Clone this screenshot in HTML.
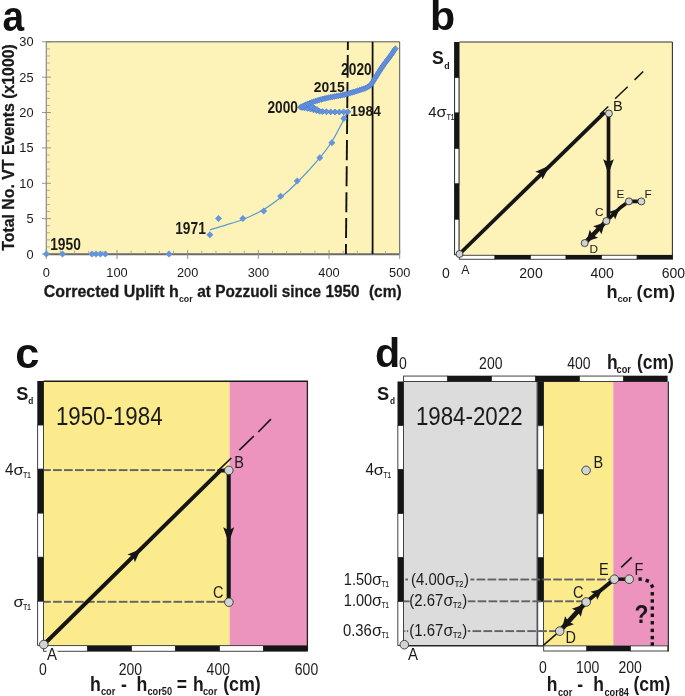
<!DOCTYPE html>
<html><head><meta charset="utf-8"><title>Figure</title>
<style>html,body{margin:0;padding:0;background:#fff}svg{display:block;will-change:transform;opacity:0.9999}</style></head>
<body>
<svg width="685" height="696" viewBox="0 0 685 696" font-family="'Liberation Sans', sans-serif">
<rect x="0.00" y="0.00" width="685.00" height="696.00" fill="#fff"/>
<rect x="46.30" y="41.80" width="353.40" height="212.20" fill="#fdf3b8"/>
<line x1="46.30" y1="41.80" x2="399.70" y2="41.80" stroke="#555" stroke-width="1" />
<line x1="399.70" y1="41.80" x2="399.70" y2="254.00" stroke="#555" stroke-width="1" />
<line x1="46.30" y1="41.80" x2="46.30" y2="254.00" stroke="#8a8a8a" stroke-width="1.2" />
<line x1="45.30" y1="254.30" x2="399.70" y2="254.30" stroke="#6a6a6a" stroke-width="2.0" />
<line x1="42.00" y1="254.00" x2="50.90" y2="254.00" stroke="#8a8a8a" stroke-width="0.9" />
<line x1="46.30" y1="246.93" x2="49.90" y2="246.93" stroke="#a8a697" stroke-width="0.9" />
<line x1="46.30" y1="239.85" x2="49.90" y2="239.85" stroke="#a8a697" stroke-width="0.9" />
<line x1="46.30" y1="232.78" x2="49.90" y2="232.78" stroke="#a8a697" stroke-width="0.9" />
<line x1="46.30" y1="225.71" x2="49.90" y2="225.71" stroke="#a8a697" stroke-width="0.9" />
<line x1="42.00" y1="218.63" x2="50.90" y2="218.63" stroke="#8a8a8a" stroke-width="0.9" />
<line x1="46.30" y1="211.56" x2="49.90" y2="211.56" stroke="#a8a697" stroke-width="0.9" />
<line x1="46.30" y1="204.49" x2="49.90" y2="204.49" stroke="#a8a697" stroke-width="0.9" />
<line x1="46.30" y1="197.41" x2="49.90" y2="197.41" stroke="#a8a697" stroke-width="0.9" />
<line x1="46.30" y1="190.34" x2="49.90" y2="190.34" stroke="#a8a697" stroke-width="0.9" />
<line x1="42.00" y1="183.27" x2="50.90" y2="183.27" stroke="#8a8a8a" stroke-width="0.9" />
<line x1="46.30" y1="176.19" x2="49.90" y2="176.19" stroke="#a8a697" stroke-width="0.9" />
<line x1="46.30" y1="169.12" x2="49.90" y2="169.12" stroke="#a8a697" stroke-width="0.9" />
<line x1="46.30" y1="162.05" x2="49.90" y2="162.05" stroke="#a8a697" stroke-width="0.9" />
<line x1="46.30" y1="154.97" x2="49.90" y2="154.97" stroke="#a8a697" stroke-width="0.9" />
<line x1="42.00" y1="147.90" x2="50.90" y2="147.90" stroke="#8a8a8a" stroke-width="0.9" />
<line x1="46.30" y1="140.83" x2="49.90" y2="140.83" stroke="#a8a697" stroke-width="0.9" />
<line x1="46.30" y1="133.75" x2="49.90" y2="133.75" stroke="#a8a697" stroke-width="0.9" />
<line x1="46.30" y1="126.68" x2="49.90" y2="126.68" stroke="#a8a697" stroke-width="0.9" />
<line x1="46.30" y1="119.61" x2="49.90" y2="119.61" stroke="#a8a697" stroke-width="0.9" />
<line x1="42.00" y1="112.53" x2="50.90" y2="112.53" stroke="#8a8a8a" stroke-width="0.9" />
<line x1="46.30" y1="105.46" x2="49.90" y2="105.46" stroke="#a8a697" stroke-width="0.9" />
<line x1="46.30" y1="98.39" x2="49.90" y2="98.39" stroke="#a8a697" stroke-width="0.9" />
<line x1="46.30" y1="91.31" x2="49.90" y2="91.31" stroke="#a8a697" stroke-width="0.9" />
<line x1="46.30" y1="84.24" x2="49.90" y2="84.24" stroke="#a8a697" stroke-width="0.9" />
<line x1="42.00" y1="77.17" x2="50.90" y2="77.17" stroke="#8a8a8a" stroke-width="0.9" />
<line x1="46.30" y1="70.09" x2="49.90" y2="70.09" stroke="#a8a697" stroke-width="0.9" />
<line x1="46.30" y1="63.02" x2="49.90" y2="63.02" stroke="#a8a697" stroke-width="0.9" />
<line x1="46.30" y1="55.95" x2="49.90" y2="55.95" stroke="#a8a697" stroke-width="0.9" />
<line x1="46.30" y1="48.87" x2="49.90" y2="48.87" stroke="#a8a697" stroke-width="0.9" />
<line x1="42.00" y1="41.80" x2="50.90" y2="41.80" stroke="#8a8a8a" stroke-width="0.9" />
<line x1="46.30" y1="250.00" x2="46.30" y2="259.00" stroke="#8a8a8a" stroke-width="0.9" />
<line x1="60.44" y1="250.80" x2="60.44" y2="254.00" stroke="#a3a190" stroke-width="0.9" />
<line x1="74.57" y1="250.80" x2="74.57" y2="254.00" stroke="#a3a190" stroke-width="0.9" />
<line x1="88.71" y1="250.80" x2="88.71" y2="254.00" stroke="#a3a190" stroke-width="0.9" />
<line x1="102.84" y1="250.80" x2="102.84" y2="254.00" stroke="#a3a190" stroke-width="0.9" />
<line x1="116.98" y1="250.00" x2="116.98" y2="259.00" stroke="#8a8a8a" stroke-width="0.9" />
<line x1="131.12" y1="250.80" x2="131.12" y2="254.00" stroke="#a3a190" stroke-width="0.9" />
<line x1="145.25" y1="250.80" x2="145.25" y2="254.00" stroke="#a3a190" stroke-width="0.9" />
<line x1="159.39" y1="250.80" x2="159.39" y2="254.00" stroke="#a3a190" stroke-width="0.9" />
<line x1="173.52" y1="250.80" x2="173.52" y2="254.00" stroke="#a3a190" stroke-width="0.9" />
<line x1="187.66" y1="250.00" x2="187.66" y2="259.00" stroke="#8a8a8a" stroke-width="0.9" />
<line x1="201.80" y1="250.80" x2="201.80" y2="254.00" stroke="#a3a190" stroke-width="0.9" />
<line x1="215.93" y1="250.80" x2="215.93" y2="254.00" stroke="#a3a190" stroke-width="0.9" />
<line x1="230.07" y1="250.80" x2="230.07" y2="254.00" stroke="#a3a190" stroke-width="0.9" />
<line x1="244.20" y1="250.80" x2="244.20" y2="254.00" stroke="#a3a190" stroke-width="0.9" />
<line x1="258.34" y1="250.00" x2="258.34" y2="259.00" stroke="#8a8a8a" stroke-width="0.9" />
<line x1="272.48" y1="250.80" x2="272.48" y2="254.00" stroke="#a3a190" stroke-width="0.9" />
<line x1="286.61" y1="250.80" x2="286.61" y2="254.00" stroke="#a3a190" stroke-width="0.9" />
<line x1="300.75" y1="250.80" x2="300.75" y2="254.00" stroke="#a3a190" stroke-width="0.9" />
<line x1="314.88" y1="250.80" x2="314.88" y2="254.00" stroke="#a3a190" stroke-width="0.9" />
<line x1="329.02" y1="250.00" x2="329.02" y2="259.00" stroke="#8a8a8a" stroke-width="0.9" />
<line x1="343.16" y1="250.80" x2="343.16" y2="254.00" stroke="#a3a190" stroke-width="0.9" />
<line x1="357.29" y1="250.80" x2="357.29" y2="254.00" stroke="#a3a190" stroke-width="0.9" />
<line x1="371.43" y1="250.80" x2="371.43" y2="254.00" stroke="#a3a190" stroke-width="0.9" />
<line x1="385.56" y1="250.80" x2="385.56" y2="254.00" stroke="#a3a190" stroke-width="0.9" />
<line x1="399.70" y1="250.00" x2="399.70" y2="259.00" stroke="#8a8a8a" stroke-width="0.9" />
<text x="33.60" y="258.50" font-size="12.80" font-weight="normal" text-anchor="end" fill="#1a1a1a" >0</text>
<text x="33.60" y="223.13" font-size="12.80" font-weight="normal" text-anchor="end" fill="#1a1a1a" >5</text>
<text x="33.60" y="187.77" font-size="12.80" font-weight="normal" text-anchor="end" fill="#1a1a1a" >10</text>
<text x="33.60" y="152.40" font-size="12.80" font-weight="normal" text-anchor="end" fill="#1a1a1a" >15</text>
<text x="33.60" y="117.03" font-size="12.80" font-weight="normal" text-anchor="end" fill="#1a1a1a" >20</text>
<text x="33.60" y="81.67" font-size="12.80" font-weight="normal" text-anchor="end" fill="#1a1a1a" >25</text>
<text x="33.60" y="46.30" font-size="12.80" font-weight="normal" text-anchor="end" fill="#1a1a1a" >30</text>
<text x="46.30" y="277.20" font-size="12.80" font-weight="normal" text-anchor="middle" fill="#1a1a1a" >0</text>
<text x="116.98" y="277.20" font-size="12.80" font-weight="normal" text-anchor="middle" fill="#1a1a1a" >100</text>
<text x="187.66" y="277.20" font-size="12.80" font-weight="normal" text-anchor="middle" fill="#1a1a1a" >200</text>
<text x="258.34" y="277.20" font-size="12.80" font-weight="normal" text-anchor="middle" fill="#1a1a1a" >300</text>
<text x="329.02" y="277.20" font-size="12.80" font-weight="normal" text-anchor="middle" fill="#1a1a1a" >400</text>
<text x="399.70" y="277.20" font-size="12.80" font-weight="normal" text-anchor="middle" fill="#1a1a1a" >500</text>
<text x="43.70" y="296.80" font-size="16.80" font-weight="bold" text-anchor="start" fill="#1a1a1a" textLength="135.00" lengthAdjust="spacingAndGlyphs" stroke="#1a1a1a" stroke-width="0.3">Corrected Uplift h</text>
<text x="179.00" y="301.70" font-size="9.20" font-weight="bold" text-anchor="start" fill="#1a1a1a" textLength="13.60" lengthAdjust="spacingAndGlyphs" >cor</text>
<text x="197.20" y="296.80" font-size="16.80" font-weight="bold" text-anchor="start" fill="#1a1a1a" textLength="162.40" lengthAdjust="spacingAndGlyphs" stroke="#1a1a1a" stroke-width="0.3">at Pozzuoli since 1950</text>
<text x="368.90" y="296.80" font-size="16.80" font-weight="bold" text-anchor="start" fill="#1a1a1a" textLength="32.70" lengthAdjust="spacingAndGlyphs" stroke="#1a1a1a" stroke-width="0.3">(cm)</text>
<text transform="translate(14.0,250.7) rotate(-90)" font-size="16.9" font-weight="bold" fill="#1a1a1a" stroke="#1a1a1a" stroke-width="0.3" textLength="206.5" lengthAdjust="spacingAndGlyphs">Total No. VT Events (x1000)</text>
<text x="2.60" y="31.00" font-size="42.29" font-weight="bold" text-anchor="start" fill="#111" textLength="21.58" lengthAdjust="spacingAndGlyphs" >a</text>
<line x1="347.90" y1="41.80" x2="347.82" y2="50.10" stroke="#111" stroke-width="1.9" />
<line x1="347.78" y1="54.90" x2="347.56" y2="77.80" stroke="#111" stroke-width="1.9" />
<line x1="347.52" y1="82.00" x2="347.28" y2="108.00" stroke="#111" stroke-width="1.9" />
<line x1="347.22" y1="114.00" x2="347.03" y2="134.00" stroke="#111" stroke-width="1.9" />
<line x1="346.97" y1="140.00" x2="346.78" y2="160.20" stroke="#111" stroke-width="1.9" />
<line x1="346.73" y1="166.20" x2="346.54" y2="186.30" stroke="#111" stroke-width="1.9" />
<line x1="346.48" y1="192.30" x2="346.29" y2="212.30" stroke="#111" stroke-width="1.9" />
<line x1="346.24" y1="218.10" x2="346.05" y2="238.10" stroke="#111" stroke-width="1.9" />
<line x1="345.99" y1="244.00" x2="345.90" y2="254.00" stroke="#111" stroke-width="1.9" />
<line x1="372.60" y1="41.80" x2="372.60" y2="254.00" stroke="#111" stroke-width="1.8" />
<path d="M209.9 229.8 C212.4 229.1 219.5 227.0 225.0 225.3 C230.5 223.6 236.5 222.1 242.9 219.5 C249.3 216.9 257.4 213.2 263.7 209.5 C270.0 205.8 275.0 202.0 280.6 197.5 C286.2 193.0 290.7 189.1 297.2 182.5 C303.7 175.9 314.0 164.6 319.8 157.8 C325.6 151.0 327.9 147.9 331.9 141.5 C335.9 135.1 341.3 124.4 343.8 119.5 C346.3 114.6 346.5 113.2 347.0 112.0" fill="none" stroke="#5b9bd5" stroke-width="1.3"/>
<path d="M42.90 254.00L46.40 250.50L49.90 254.00L46.40 257.50Z" fill="#6395dc"/>
<path d="M59.00 254.00L62.50 250.50L66.00 254.00L62.50 257.50Z" fill="#6395dc"/>
<path d="M88.50 254.00L92.00 250.50L95.50 254.00L92.00 257.50Z" fill="#6395dc"/>
<path d="M92.50 254.00L96.00 250.50L99.50 254.00L96.00 257.50Z" fill="#6395dc"/>
<path d="M96.90 254.00L100.40 250.50L103.90 254.00L100.40 257.50Z" fill="#6395dc"/>
<path d="M101.90 254.00L105.40 250.50L108.90 254.00L105.40 257.50Z" fill="#6395dc"/>
<path d="M165.50 254.00L169.00 250.50L172.50 254.00L169.00 257.50Z" fill="#6395dc"/>
<path d="M206.40 234.70L209.90 231.20L213.40 234.70L209.90 238.20Z" fill="#6395dc"/>
<path d="M215.00 218.60L218.50 215.10L222.00 218.60L218.50 222.10Z" fill="#6395dc"/>
<path d="M239.40 218.60L242.90 215.10L246.40 218.60L242.90 222.10Z" fill="#6395dc"/>
<path d="M260.20 210.90L263.70 207.40L267.20 210.90L263.70 214.40Z" fill="#6395dc"/>
<path d="M277.10 196.30L280.60 192.80L284.10 196.30L280.60 199.80Z" fill="#6395dc"/>
<path d="M293.70 181.10L297.20 177.60L300.70 181.10L297.20 184.60Z" fill="#6395dc"/>
<path d="M316.30 157.80L319.80 154.30L323.30 157.80L319.80 161.30Z" fill="#6395dc"/>
<path d="M328.40 142.70L331.90 139.20L335.40 142.70L331.90 146.20Z" fill="#6395dc"/>
<path d="M340.30 118.60L343.80 115.10L347.30 118.60L343.80 122.10Z" fill="#6395dc"/>
<path d="M344.80 111.80L347.80 108.80L350.80 111.80L347.80 114.80Z" fill="#6395dc" stroke="#5078d4" stroke-width="0.7"/>
<path d="M340.60 111.90L343.60 108.90L346.60 111.90L343.60 114.90Z" fill="#6395dc" stroke="#5078d4" stroke-width="0.7"/>
<path d="M336.30 112.00L339.30 109.00L342.30 112.00L339.30 115.00Z" fill="#6395dc" stroke="#5078d4" stroke-width="0.7"/>
<path d="M332.00 112.00L335.00 109.00L338.00 112.00L335.00 115.00Z" fill="#6395dc" stroke="#5078d4" stroke-width="0.7"/>
<path d="M327.70 111.90L330.70 108.90L333.70 111.90L330.70 114.90Z" fill="#6395dc" stroke="#5078d4" stroke-width="0.7"/>
<path d="M323.40 111.80L326.40 108.80L329.40 111.80L326.40 114.80Z" fill="#6395dc" stroke="#5078d4" stroke-width="0.7"/>
<path d="M319.50 111.60L322.50 108.60L325.50 111.60L322.50 114.60Z" fill="#6395dc" stroke="#5078d4" stroke-width="0.7"/>
<path d="M316.50 111.20L319.50 108.20L322.50 111.20L319.50 114.20Z" fill="#6395dc" stroke="#5078d4" stroke-width="0.7"/>
<path d="M313.50 110.60L316.50 107.60L319.50 110.60L316.50 113.60Z" fill="#6395dc" stroke="#5078d4" stroke-width="0.7"/>
<path d="M310.50 109.80L313.50 106.80L316.50 109.80L313.50 112.80Z" fill="#6395dc" stroke="#5078d4" stroke-width="0.7"/>
<path d="M307.50 109.00L310.50 106.00L313.50 109.00L310.50 112.00Z" fill="#6395dc" stroke="#5078d4" stroke-width="0.7"/>
<path d="M304.50 108.40L307.50 105.40L310.50 108.40L307.50 111.40Z" fill="#6395dc" stroke="#5078d4" stroke-width="0.7"/>
<path d="M301.50 107.90L304.50 104.90L307.50 107.90L304.50 110.90Z" fill="#6395dc" stroke="#5078d4" stroke-width="0.7"/>
<path d="M299.00 107.50L302.00 104.50L305.00 107.50L302.00 110.50Z" fill="#6395dc" stroke="#5078d4" stroke-width="0.7"/>
<path d="M311.00 108.00L314.00 105.00L317.00 108.00L314.00 111.00Z" fill="#6395dc" stroke="#5078d4" stroke-width="0.7"/>
<path d="M314.00 109.50L317.00 106.50L320.00 109.50L317.00 112.50Z" fill="#6395dc" stroke="#5078d4" stroke-width="0.7"/>
<path d="M308.00 106.50L311.00 103.50L314.00 106.50L311.00 109.50Z" fill="#6395dc" stroke="#5078d4" stroke-width="0.7"/>
<path d="M297.60 107.20L300.50 104.30L303.40 107.20L300.50 110.10Z" fill="#6395dc" stroke="#5078d4" stroke-width="0.7"/>
<path d="M299.41 106.35L302.31 103.45L305.21 106.35L302.31 109.25Z" fill="#6395dc" stroke="#5078d4" stroke-width="0.7"/>
<path d="M301.22 105.51L304.12 102.61L307.02 105.51L304.12 108.41Z" fill="#6395dc" stroke="#5078d4" stroke-width="0.7"/>
<path d="M303.04 104.66L305.94 101.76L308.84 104.66L305.94 107.56Z" fill="#6395dc" stroke="#5078d4" stroke-width="0.7"/>
<path d="M304.88 103.89L307.78 100.99L310.68 103.89L307.78 106.79Z" fill="#6395dc" stroke="#5078d4" stroke-width="0.7"/>
<path d="M306.75 103.19L309.65 100.29L312.55 103.19L309.65 106.09Z" fill="#6395dc" stroke="#5078d4" stroke-width="0.7"/>
<path d="M308.62 102.48L311.52 99.58L314.42 102.48L311.52 105.38Z" fill="#6395dc" stroke="#5078d4" stroke-width="0.7"/>
<path d="M310.52 101.84L313.42 98.94L316.32 101.84L313.42 104.74Z" fill="#6395dc" stroke="#5078d4" stroke-width="0.7"/>
<path d="M312.42 101.21L315.32 98.31L318.22 101.21L315.32 104.11Z" fill="#6395dc" stroke="#5078d4" stroke-width="0.7"/>
<path d="M314.32 100.59L317.22 97.69L320.12 100.59L317.22 103.49Z" fill="#6395dc" stroke="#5078d4" stroke-width="0.7"/>
<path d="M316.23 100.00L319.13 97.10L322.03 100.00L319.13 102.90Z" fill="#6395dc" stroke="#5078d4" stroke-width="0.7"/>
<path d="M318.16 99.49L321.06 96.59L323.96 99.49L321.06 102.39Z" fill="#6395dc" stroke="#5078d4" stroke-width="0.7"/>
<path d="M320.09 98.97L322.99 96.07L325.89 98.97L322.99 101.87Z" fill="#6395dc" stroke="#5078d4" stroke-width="0.7"/>
<path d="M322.03 98.48L324.93 95.58L327.83 98.48L324.93 101.38Z" fill="#6395dc" stroke="#5078d4" stroke-width="0.7"/>
<path d="M323.98 98.03L326.88 95.13L329.78 98.03L326.88 100.93Z" fill="#6395dc" stroke="#5078d4" stroke-width="0.7"/>
<path d="M325.93 97.57L328.83 94.67L331.73 97.57L328.83 100.47Z" fill="#6395dc" stroke="#5078d4" stroke-width="0.7"/>
<path d="M327.88 97.16L330.78 94.26L333.68 97.16L330.78 100.06Z" fill="#6395dc" stroke="#5078d4" stroke-width="0.7"/>
<path d="M329.85 96.80L332.75 93.90L335.65 96.80L332.75 99.70Z" fill="#6395dc" stroke="#5078d4" stroke-width="0.7"/>
<path d="M331.82 96.44L334.72 93.54L337.62 96.44L334.72 99.34Z" fill="#6395dc" stroke="#5078d4" stroke-width="0.7"/>
<path d="M333.79 96.09L336.69 93.19L339.59 96.09L336.69 98.99Z" fill="#6395dc" stroke="#5078d4" stroke-width="0.7"/>
<path d="M335.76 95.78L338.66 92.88L341.56 95.78L338.66 98.68Z" fill="#6395dc" stroke="#5078d4" stroke-width="0.7"/>
<path d="M337.74 95.47L340.64 92.57L343.54 95.47L340.64 98.37Z" fill="#6395dc" stroke="#5078d4" stroke-width="0.7"/>
<path d="M339.70 95.07L342.60 92.17L345.50 95.07L342.60 97.97Z" fill="#6395dc" stroke="#5078d4" stroke-width="0.7"/>
<path d="M341.64 94.58L344.54 91.68L347.44 94.58L344.54 97.48Z" fill="#6395dc" stroke="#5078d4" stroke-width="0.7"/>
<path d="M343.57 94.09L346.47 91.19L349.37 94.09L346.47 96.99Z" fill="#6395dc" stroke="#5078d4" stroke-width="0.7"/>
<path d="M345.50 93.56L348.40 90.66L351.30 93.56L348.40 96.46Z" fill="#6395dc" stroke="#5078d4" stroke-width="0.7"/>
<path d="M347.42 92.99L350.32 90.09L353.22 92.99L350.32 95.89Z" fill="#6395dc" stroke="#5078d4" stroke-width="0.7"/>
<path d="M349.34 92.43L352.24 89.53L355.14 92.43L352.24 95.33Z" fill="#6395dc" stroke="#5078d4" stroke-width="0.7"/>
<path d="M351.26 91.86L354.16 88.96L357.06 91.86L354.16 94.76Z" fill="#6395dc" stroke="#5078d4" stroke-width="0.7"/>
<path d="M353.17 91.28L356.07 88.38L358.97 91.28L356.07 94.18Z" fill="#6395dc" stroke="#5078d4" stroke-width="0.7"/>
<path d="M355.07 90.64L357.97 87.74L360.87 90.64L357.97 93.54Z" fill="#6395dc" stroke="#5078d4" stroke-width="0.7"/>
<path d="M356.96 90.01L359.86 87.11L362.76 90.01L359.86 92.91Z" fill="#6395dc" stroke="#5078d4" stroke-width="0.7"/>
<path d="M358.86 89.39L361.76 86.49L364.66 89.39L361.76 92.29Z" fill="#6395dc" stroke="#5078d4" stroke-width="0.7"/>
<path d="M360.77 88.77L363.67 85.87L366.57 88.77L363.67 91.67Z" fill="#6395dc" stroke="#5078d4" stroke-width="0.7"/>
<path d="M362.64 88.08L365.54 85.18L368.44 88.08L365.54 90.98Z" fill="#6395dc" stroke="#5078d4" stroke-width="0.7"/>
<path d="M364.43 87.19L367.33 84.29L370.23 87.19L367.33 90.09Z" fill="#6395dc" stroke="#5078d4" stroke-width="0.7"/>
<path d="M366.22 86.29L369.12 83.39L372.02 86.29L369.12 89.19Z" fill="#6395dc" stroke="#5078d4" stroke-width="0.7"/>
<path d="M367.66 84.96L370.56 82.06L373.46 84.96L370.56 87.86Z" fill="#6395dc" stroke="#5078d4" stroke-width="0.7"/>
<path d="M368.93 83.41L371.83 80.51L374.73 83.41L371.83 86.31Z" fill="#6395dc" stroke="#5078d4" stroke-width="0.7"/>
<path d="M369.96 81.70L372.86 78.80L375.76 81.70L372.86 84.60Z" fill="#6395dc" stroke="#5078d4" stroke-width="0.7"/>
<path d="M370.98 79.98L373.88 77.08L376.78 79.98L373.88 82.88Z" fill="#6395dc" stroke="#5078d4" stroke-width="0.7"/>
<path d="M372.09 78.32L374.99 75.42L377.89 78.32L374.99 81.22Z" fill="#6395dc" stroke="#5078d4" stroke-width="0.7"/>
<path d="M373.16 76.63L376.06 73.73L378.96 76.63L376.06 79.53Z" fill="#6395dc" stroke="#5078d4" stroke-width="0.7"/>
<path d="M374.20 74.92L377.10 72.02L380.00 74.92L377.10 77.82Z" fill="#6395dc" stroke="#5078d4" stroke-width="0.7"/>
<path d="M375.24 73.22L378.14 70.32L381.04 73.22L378.14 76.12Z" fill="#6395dc" stroke="#5078d4" stroke-width="0.7"/>
<path d="M376.33 71.54L379.23 68.64L382.13 71.54L379.23 74.44Z" fill="#6395dc" stroke="#5078d4" stroke-width="0.7"/>
<path d="M377.41 69.85L380.31 66.95L383.21 69.85L380.31 72.75Z" fill="#6395dc" stroke="#5078d4" stroke-width="0.7"/>
<path d="M378.50 68.18L381.40 65.28L384.30 68.18L381.40 71.08Z" fill="#6395dc" stroke="#5078d4" stroke-width="0.7"/>
<path d="M379.59 66.50L382.49 63.60L385.39 66.50L382.49 69.40Z" fill="#6395dc" stroke="#5078d4" stroke-width="0.7"/>
<path d="M380.70 64.84L383.60 61.94L386.50 64.84L383.60 67.74Z" fill="#6395dc" stroke="#5078d4" stroke-width="0.7"/>
<path d="M381.91 63.25L384.81 60.35L387.71 63.25L384.81 66.15Z" fill="#6395dc" stroke="#5078d4" stroke-width="0.7"/>
<path d="M383.12 61.66L386.02 58.76L388.92 61.66L386.02 64.56Z" fill="#6395dc" stroke="#5078d4" stroke-width="0.7"/>
<path d="M384.35 60.08L387.25 57.18L390.15 60.08L387.25 62.98Z" fill="#6395dc" stroke="#5078d4" stroke-width="0.7"/>
<path d="M385.59 58.51L388.49 55.61L391.39 58.51L388.49 61.41Z" fill="#6395dc" stroke="#5078d4" stroke-width="0.7"/>
<path d="M386.83 56.94L389.73 54.04L392.63 56.94L389.73 59.84Z" fill="#6395dc" stroke="#5078d4" stroke-width="0.7"/>
<path d="M387.97 55.30L390.87 52.40L393.77 55.30L390.87 58.20Z" fill="#6395dc" stroke="#5078d4" stroke-width="0.7"/>
<path d="M389.08 53.63L391.98 50.73L394.88 53.63L391.98 56.53Z" fill="#6395dc" stroke="#5078d4" stroke-width="0.7"/>
<path d="M390.19 51.97L393.09 49.07L395.99 51.97L393.09 54.87Z" fill="#6395dc" stroke="#5078d4" stroke-width="0.7"/>
<path d="M391.33 50.33L394.23 47.43L397.13 50.33L394.23 53.23Z" fill="#6395dc" stroke="#5078d4" stroke-width="0.7"/>
<path d="M392.47 48.68L395.37 45.78L398.27 48.68L395.37 51.58Z" fill="#6395dc" stroke="#5078d4" stroke-width="0.7"/>
<text x="50.20" y="249.60" font-size="15.60" font-weight="bold" text-anchor="start" fill="#1a1a1a" textLength="30.60" lengthAdjust="spacingAndGlyphs" >1950</text>
<text x="175.20" y="234.20" font-size="15.60" font-weight="bold" text-anchor="start" fill="#1a1a1a" textLength="30.60" lengthAdjust="spacingAndGlyphs" >1971</text>
<text x="267.40" y="113.10" font-size="15.60" font-weight="bold" text-anchor="start" fill="#1a1a1a" textLength="30.60" lengthAdjust="spacingAndGlyphs" >2000</text>
<text x="313.80" y="91.70" font-size="15.20" font-weight="bold" text-anchor="start" fill="#1a1a1a" textLength="31.00" lengthAdjust="spacingAndGlyphs" >2015</text>
<text x="341.10" y="75.00" font-size="15.60" font-weight="bold" text-anchor="start" fill="#1a1a1a" textLength="30.60" lengthAdjust="spacingAndGlyphs" >2020</text>
<text x="350.20" y="116.00" font-size="15.20" font-weight="bold" text-anchor="start" fill="#1a1a1a" textLength="30.60" lengthAdjust="spacingAndGlyphs" >1984</text>
<rect x="459.30" y="42.00" width="213.10" height="212.80" fill="#fdf3b8"/>
<line x1="459.30" y1="42.00" x2="672.40" y2="42.00" stroke="#333" stroke-width="1.1" />
<line x1="672.40" y1="42.00" x2="672.40" y2="259.40" stroke="#333" stroke-width="1.1" />
<rect x="454.30" y="42.00" width="5.00" height="35.45" fill="#151515"/>
<rect x="454.65" y="77.45" width="4.30" height="35.45" fill="#fff" stroke="#222" stroke-width="0.85"/>
<rect x="454.30" y="112.90" width="5.00" height="35.45" fill="#151515"/>
<rect x="454.65" y="148.35" width="4.30" height="35.45" fill="#fff" stroke="#222" stroke-width="0.85"/>
<rect x="454.30" y="183.80" width="5.00" height="35.45" fill="#151515"/>
<rect x="454.65" y="219.25" width="4.30" height="35.45" fill="#fff" stroke="#222" stroke-width="0.85"/>
<rect x="459.30" y="255.25" width="35.55" height="4.00" fill="#fff" stroke="#222" stroke-width="0.85"/>
<rect x="494.85" y="254.90" width="35.55" height="4.70" fill="#151515"/>
<rect x="530.40" y="255.25" width="35.55" height="4.00" fill="#fff" stroke="#222" stroke-width="0.85"/>
<rect x="565.95" y="254.90" width="35.55" height="4.70" fill="#151515"/>
<rect x="601.50" y="255.25" width="35.55" height="4.00" fill="#fff" stroke="#222" stroke-width="0.85"/>
<rect x="637.05" y="254.90" width="35.55" height="4.70" fill="#151515"/>
<text x="429.90" y="30.20" font-size="41.20" font-weight="bold" text-anchor="start" fill="#111" >b</text>
<text x="431.90" y="64.00" font-size="17.60" font-weight="bold" text-anchor="start" fill="#1a1a1a" >S</text>
<text x="444.30" y="68.60" font-size="8.80" font-weight="bold" text-anchor="start" fill="#1a1a1a" >d</text>
<text x="428.20" y="117.30" font-size="15.40" font-weight="normal" text-anchor="start" fill="#1a1a1a" textLength="8.30" lengthAdjust="spacingAndGlyphs" >4</text>
<text x="436.60" y="117.30" font-size="15.40" font-weight="normal" text-anchor="start" fill="#1a1a1a" textLength="10.00" lengthAdjust="spacingAndGlyphs" >σ</text>
<text x="446.80" y="119.90" font-size="8.30" font-weight="normal" text-anchor="start" fill="#2a2a2a" textLength="7.60" lengthAdjust="spacingAndGlyphs" stroke="#2a2a2a" stroke-width="0.2">T1</text>
<rect x="454.30" y="42.00" width="5.00" height="35.45" fill="#151515"/>
<rect x="454.65" y="77.45" width="4.30" height="35.45" fill="#fff" stroke="#222" stroke-width="0.85"/>
<rect x="454.30" y="112.90" width="5.00" height="35.45" fill="#151515"/>
<rect x="454.65" y="148.35" width="4.30" height="35.45" fill="#fff" stroke="#222" stroke-width="0.85"/>
<rect x="454.30" y="183.80" width="5.00" height="35.45" fill="#151515"/>
<rect x="454.65" y="219.25" width="4.30" height="35.45" fill="#fff" stroke="#222" stroke-width="0.85"/>
<line x1="600.00" y1="114.30" x2="608.30" y2="106.50" stroke="#151515" stroke-width="1.5" />
<line x1="615.10" y1="98.80" x2="627.70" y2="86.80" stroke="#151515" stroke-width="1.5" />
<line x1="634.60" y1="79.90" x2="643.20" y2="71.50" stroke="#151515" stroke-width="1.5" />
<line x1="459.50" y1="254.00" x2="604.60" y2="112.40" stroke="#151515" stroke-width="3.8" stroke-linecap="butt"/>
<polygon points="549.70,165.50 542.47,179.42 540.95,173.71 535.35,171.84" fill="#151515"/>
<line x1="608.50" y1="113.50" x2="608.50" y2="219.00" stroke="#151515" stroke-width="3.7" />
<polygon points="608.50,174.00 603.20,159.20 608.50,162.00 613.80,159.20" fill="#151515"/>
<line x1="584.70" y1="243.10" x2="606.40" y2="221.00" stroke="#151515" stroke-width="4.4" />
<polygon points="604.90,222.60 601.47,234.37 598.73,228.88 593.19,226.24" fill="#151515"/>
<polygon points="586.40,241.40 589.83,229.63 592.57,235.12 598.11,237.76" fill="#151515"/>
<path d="M606.4 221.0 L620.5 207.5 L628.9 201.4 L641.3 201.4" fill="none" stroke="#151515" stroke-width="3.6" stroke-linejoin="round"/>
<polygon points="619.60,208.20 615.11,219.42 613.24,214.29 608.20,212.20" fill="#151515"/>
<circle cx="459.50" cy="254.00" r="3.5" fill="#d2d4d4" stroke="#2a2a2a" stroke-width="0.85"/>
<circle cx="608.90" cy="113.50" r="3.5" fill="#d2d4d4" stroke="#2a2a2a" stroke-width="0.85"/>
<circle cx="606.40" cy="221.00" r="3.5" fill="#d2d4d4" stroke="#2a2a2a" stroke-width="0.85"/>
<circle cx="584.70" cy="243.10" r="3.5" fill="#d2d4d4" stroke="#2a2a2a" stroke-width="0.85"/>
<circle cx="628.90" cy="201.40" r="3.5" fill="#d2d4d4" stroke="#2a2a2a" stroke-width="0.85"/>
<circle cx="641.30" cy="201.40" r="3.5" fill="#d2d4d4" stroke="#2a2a2a" stroke-width="0.85"/>
<text x="613.10" y="111.30" font-size="14.50" font-weight="normal" text-anchor="start" fill="#1a1a1a" >B</text>
<text x="616.50" y="197.90" font-size="11.80" font-weight="normal" text-anchor="start" fill="#1a1a1a" >E</text>
<text x="644.60" y="197.90" font-size="11.80" font-weight="normal" text-anchor="start" fill="#1a1a1a" >F</text>
<text x="594.90" y="216.40" font-size="11.80" font-weight="normal" text-anchor="start" fill="#1a1a1a" >C</text>
<text x="589.40" y="253.40" font-size="11.80" font-weight="normal" text-anchor="start" fill="#1a1a1a" >D</text>
<text x="461.30" y="273.60" font-size="12.30" font-weight="normal" text-anchor="start" fill="#1a1a1a" >A</text>
<text x="442.00" y="278.40" font-size="14.00" font-weight="normal" text-anchor="start" fill="#1a1a1a" >0</text>
<text x="531.00" y="278.40" font-size="14.00" font-weight="normal" text-anchor="middle" fill="#1a1a1a" >200</text>
<text x="602.20" y="278.40" font-size="14.00" font-weight="normal" text-anchor="middle" fill="#1a1a1a" >400</text>
<text x="673.40" y="278.40" font-size="14.00" font-weight="normal" text-anchor="middle" fill="#1a1a1a" >600</text>
<text x="606.50" y="297.90" font-size="18.20" font-weight="bold" text-anchor="start" fill="#1a1a1a" >h</text>
<text x="617.40" y="302.00" font-size="9.40" font-weight="bold" text-anchor="start" fill="#1a1a1a" >cor</text>
<text x="636.60" y="297.90" font-size="18.20" font-weight="bold" text-anchor="start" fill="#1a1a1a" >(cm)</text>
<rect x="43.60" y="381.20" width="186.00" height="264.10" fill="#fbeb8d"/>
<rect x="229.60" y="381.20" width="77.80" height="264.10" fill="#ec93be"/>
<line x1="43.60" y1="381.30" x2="308.00" y2="381.30" stroke="#1a1a1a" stroke-width="1.6" />
<line x1="307.40" y1="381.20" x2="307.40" y2="651.30" stroke="#222" stroke-width="1.3" />
<rect x="37.30" y="381.00" width="6.60" height="44.05" fill="#151515"/>
<rect x="37.65" y="425.05" width="5.90" height="44.05" fill="#fff" stroke="#222" stroke-width="0.85"/>
<rect x="37.30" y="469.10" width="6.60" height="44.05" fill="#151515"/>
<rect x="37.65" y="513.15" width="5.90" height="44.05" fill="#fff" stroke="#222" stroke-width="0.85"/>
<rect x="37.30" y="557.20" width="6.60" height="44.05" fill="#151515"/>
<rect x="37.65" y="601.25" width="5.90" height="44.05" fill="#fff" stroke="#222" stroke-width="0.85"/>
<rect x="43.60" y="645.65" width="43.97" height="5.60" fill="#fff" stroke="#222" stroke-width="0.85"/>
<rect x="87.57" y="645.30" width="43.97" height="6.30" fill="#151515"/>
<rect x="131.54" y="645.65" width="43.97" height="5.60" fill="#fff" stroke="#222" stroke-width="0.85"/>
<rect x="175.51" y="645.30" width="43.97" height="6.30" fill="#151515"/>
<rect x="219.48" y="645.65" width="43.97" height="5.60" fill="#fff" stroke="#222" stroke-width="0.85"/>
<rect x="263.45" y="645.30" width="43.97" height="6.30" fill="#151515"/>
<text x="15.20" y="368.20" font-size="43.40" font-weight="bold" text-anchor="start" fill="#111" >c</text>
<text x="16.20" y="400.00" font-size="18.20" font-weight="bold" text-anchor="start" fill="#1a1a1a" >S</text>
<text x="28.30" y="404.10" font-size="9.38" font-weight="bold" text-anchor="start" fill="#1a1a1a" textLength="5.07" lengthAdjust="spacingAndGlyphs" >d</text>
<text x="55.90" y="425.40" font-size="25.20" font-weight="normal" text-anchor="start" fill="#1a1a1a" textLength="106.65" lengthAdjust="spacingAndGlyphs" >1950-1984</text>
<text x="5.10" y="475.20" font-size="15.81" font-weight="normal" text-anchor="start" fill="#1a1a1a" textLength="8.45" lengthAdjust="spacingAndGlyphs" >4</text>
<text x="13.40" y="475.20" font-size="15.40" font-weight="normal" text-anchor="start" fill="#1a1a1a" textLength="10.20" lengthAdjust="spacingAndGlyphs" >σ</text>
<text x="23.30" y="477.90" font-size="8.30" font-weight="normal" text-anchor="start" fill="#2a2a2a" textLength="7.60" lengthAdjust="spacingAndGlyphs" stroke="#2a2a2a" stroke-width="0.2">T1</text>
<text x="13.40" y="606.80" font-size="15.40" font-weight="normal" text-anchor="start" fill="#1a1a1a" textLength="10.20" lengthAdjust="spacingAndGlyphs" >σ</text>
<text x="23.30" y="609.60" font-size="8.30" font-weight="normal" text-anchor="start" fill="#2a2a2a" textLength="7.60" lengthAdjust="spacingAndGlyphs" stroke="#2a2a2a" stroke-width="0.2">T1</text>
<line x1="43.90" y1="470.10" x2="50.82" y2="470.10" stroke="#626266" stroke-width="1.9" />
<line x1="53.07" y1="470.10" x2="61.77" y2="470.10" stroke="#626266" stroke-width="1.9" />
<line x1="64.02" y1="470.10" x2="72.72" y2="470.10" stroke="#626266" stroke-width="1.9" />
<line x1="74.97" y1="470.10" x2="83.67" y2="470.10" stroke="#626266" stroke-width="1.9" />
<line x1="85.92" y1="470.10" x2="94.62" y2="470.10" stroke="#626266" stroke-width="1.9" />
<line x1="96.87" y1="470.10" x2="105.57" y2="470.10" stroke="#626266" stroke-width="1.9" />
<line x1="107.82" y1="470.10" x2="116.52" y2="470.10" stroke="#626266" stroke-width="1.9" />
<line x1="118.77" y1="470.10" x2="127.47" y2="470.10" stroke="#626266" stroke-width="1.9" />
<line x1="129.72" y1="470.10" x2="138.42" y2="470.10" stroke="#626266" stroke-width="1.9" />
<line x1="140.67" y1="470.10" x2="149.37" y2="470.10" stroke="#626266" stroke-width="1.9" />
<line x1="151.62" y1="470.10" x2="160.32" y2="470.10" stroke="#626266" stroke-width="1.9" />
<line x1="162.57" y1="470.10" x2="171.27" y2="470.10" stroke="#626266" stroke-width="1.9" />
<line x1="173.52" y1="470.10" x2="182.22" y2="470.10" stroke="#626266" stroke-width="1.9" />
<line x1="184.47" y1="470.10" x2="193.17" y2="470.10" stroke="#626266" stroke-width="1.9" />
<line x1="195.42" y1="470.10" x2="204.12" y2="470.10" stroke="#626266" stroke-width="1.9" />
<line x1="206.37" y1="470.10" x2="215.07" y2="470.10" stroke="#626266" stroke-width="1.9" />
<line x1="217.32" y1="470.10" x2="226.02" y2="470.10" stroke="#626266" stroke-width="1.9" />
<line x1="228.27" y1="470.10" x2="228.80" y2="470.10" stroke="#626266" stroke-width="1.9" />
<line x1="43.90" y1="601.80" x2="50.82" y2="601.80" stroke="#626266" stroke-width="1.9" />
<line x1="53.07" y1="601.80" x2="61.77" y2="601.80" stroke="#626266" stroke-width="1.9" />
<line x1="64.02" y1="601.80" x2="72.72" y2="601.80" stroke="#626266" stroke-width="1.9" />
<line x1="74.97" y1="601.80" x2="83.67" y2="601.80" stroke="#626266" stroke-width="1.9" />
<line x1="85.92" y1="601.80" x2="94.62" y2="601.80" stroke="#626266" stroke-width="1.9" />
<line x1="96.87" y1="601.80" x2="105.57" y2="601.80" stroke="#626266" stroke-width="1.9" />
<line x1="107.82" y1="601.80" x2="116.52" y2="601.80" stroke="#626266" stroke-width="1.9" />
<line x1="118.77" y1="601.80" x2="127.47" y2="601.80" stroke="#626266" stroke-width="1.9" />
<line x1="129.72" y1="601.80" x2="138.42" y2="601.80" stroke="#626266" stroke-width="1.9" />
<line x1="140.67" y1="601.80" x2="149.37" y2="601.80" stroke="#626266" stroke-width="1.9" />
<line x1="151.62" y1="601.80" x2="160.32" y2="601.80" stroke="#626266" stroke-width="1.9" />
<line x1="162.57" y1="601.80" x2="171.27" y2="601.80" stroke="#626266" stroke-width="1.9" />
<line x1="173.52" y1="601.80" x2="182.22" y2="601.80" stroke="#626266" stroke-width="1.9" />
<line x1="184.47" y1="601.80" x2="193.17" y2="601.80" stroke="#626266" stroke-width="1.9" />
<line x1="195.42" y1="601.80" x2="204.12" y2="601.80" stroke="#626266" stroke-width="1.9" />
<line x1="206.37" y1="601.80" x2="215.07" y2="601.80" stroke="#626266" stroke-width="1.9" />
<line x1="217.32" y1="601.80" x2="226.02" y2="601.80" stroke="#626266" stroke-width="1.9" />
<line x1="228.27" y1="601.80" x2="228.90" y2="601.80" stroke="#626266" stroke-width="1.9" />
<line x1="217.60" y1="471.20" x2="231.30" y2="458.00" stroke="#151515" stroke-width="1.6" />
<line x1="239.30" y1="450.10" x2="253.80" y2="436.20" stroke="#151515" stroke-width="1.6" />
<line x1="258.30" y1="432.00" x2="270.90" y2="419.10" stroke="#151515" stroke-width="1.6" />
<path d="M43.8 644.5 L220.4 470.6 L226 470.5" fill="none" stroke="#151515" stroke-width="3.9" stroke-linejoin="miter"/>
<polygon points="140.80,548.90 134.90,562.15 133.18,556.41 127.46,554.60" fill="#151515"/>
<line x1="228.70" y1="470.40" x2="228.70" y2="602.20" stroke="#151515" stroke-width="4.1" />
<polygon points="228.70,542.60 223.20,527.20 228.70,530.20 234.20,527.20" fill="#151515"/>
<circle cx="43.80" cy="644.50" r="4.3" fill="#d2d4d4" stroke="#2a2a2a" stroke-width="0.85"/>
<circle cx="228.80" cy="470.40" r="4.3" fill="#d2d4d4" stroke="#2a2a2a" stroke-width="0.85"/>
<circle cx="228.90" cy="602.20" r="4.3" fill="#d2d4d4" stroke="#2a2a2a" stroke-width="0.85"/>
<text x="234.20" y="468.10" font-size="16.38" font-weight="normal" text-anchor="start" fill="#1a1a1a" textLength="9.67" lengthAdjust="spacingAndGlyphs" >B</text>
<text x="213.10" y="597.70" font-size="16.38" font-weight="normal" text-anchor="start" fill="#1a1a1a" textLength="10.47" lengthAdjust="spacingAndGlyphs" >C</text>
<rect x="46.60" y="650.60" width="11.00" height="9.60" fill="#fff"/>
<text x="46.90" y="659.70" font-size="16.95" font-weight="normal" text-anchor="start" fill="#1a1a1a" textLength="10.01" lengthAdjust="spacingAndGlyphs" >A</text>
<text x="42.80" y="674.80" font-size="15.82" font-weight="normal" text-anchor="middle" fill="#1a1a1a" textLength="7.79" lengthAdjust="spacingAndGlyphs" >0</text>
<text x="130.40" y="674.80" font-size="15.82" font-weight="normal" text-anchor="middle" fill="#1a1a1a" textLength="23.36" lengthAdjust="spacingAndGlyphs" >200</text>
<text x="218.30" y="674.80" font-size="15.82" font-weight="normal" text-anchor="middle" fill="#1a1a1a" textLength="23.36" lengthAdjust="spacingAndGlyphs" >400</text>
<text x="306.50" y="674.80" font-size="15.82" font-weight="normal" text-anchor="middle" fill="#1a1a1a" textLength="23.36" lengthAdjust="spacingAndGlyphs" >600</text>
<text x="90.00" y="690.90" font-size="20.00" font-weight="bold" text-anchor="start" fill="#1a1a1a" textLength="10.81" lengthAdjust="spacingAndGlyphs" >h</text>
<text x="101.00" y="695.00" font-size="10.40" font-weight="bold" text-anchor="start" fill="#1a1a1a" textLength="14.32" lengthAdjust="spacingAndGlyphs" >cor</text>
<text x="121.00" y="690.90" font-size="20.00" font-weight="bold" text-anchor="start" fill="#1a1a1a" textLength="5.89" lengthAdjust="spacingAndGlyphs" >-</text>
<text x="136.40" y="690.90" font-size="20.00" font-weight="bold" text-anchor="start" fill="#1a1a1a" textLength="10.81" lengthAdjust="spacingAndGlyphs" >h</text>
<text x="147.50" y="695.00" font-size="10.40" font-weight="bold" text-anchor="start" fill="#1a1a1a" textLength="24.55" lengthAdjust="spacingAndGlyphs" >cor50</text>
<text x="176.80" y="690.90" font-size="19.77" font-weight="bold" text-anchor="start" fill="#1a1a1a" textLength="10.22" lengthAdjust="spacingAndGlyphs" >=</text>
<text x="193.00" y="690.90" font-size="19.77" font-weight="bold" text-anchor="start" fill="#1a1a1a" textLength="10.69" lengthAdjust="spacingAndGlyphs" >h</text>
<text x="203.00" y="695.00" font-size="10.40" font-weight="bold" text-anchor="start" fill="#1a1a1a" textLength="14.32" lengthAdjust="spacingAndGlyphs" >cor</text>
<text x="223.20" y="690.90" font-size="20.11" font-weight="bold" text-anchor="start" fill="#1a1a1a" textLength="37.58" lengthAdjust="spacingAndGlyphs" >(cm)</text>
<rect x="403.70" y="381.50" width="133.50" height="264.00" fill="#dcdcdc"/>
<rect x="543.70" y="381.50" width="69.60" height="264.00" fill="#fbeb8d"/>
<rect x="613.30" y="381.50" width="54.50" height="264.00" fill="#ec93be"/>
<line x1="668.30" y1="381.50" x2="668.30" y2="651.40" stroke="#222" stroke-width="1.2" />
<line x1="403.70" y1="645.70" x2="543.20" y2="645.70" stroke="#262626" stroke-width="1.5" />
<line x1="537.00" y1="381.50" x2="537.00" y2="645.50" stroke="#333" stroke-width="0.8" />
<rect x="403.60" y="376.05" width="44.00" height="5.50" fill="#fff" stroke="#222" stroke-width="0.85"/>
<rect x="447.60" y="375.70" width="44.00" height="6.20" fill="#151515"/>
<rect x="491.60" y="376.05" width="44.00" height="5.50" fill="#fff" stroke="#222" stroke-width="0.85"/>
<rect x="535.60" y="375.70" width="44.00" height="6.20" fill="#151515"/>
<rect x="579.60" y="376.05" width="44.00" height="5.50" fill="#fff" stroke="#222" stroke-width="0.85"/>
<rect x="623.60" y="375.70" width="44.00" height="6.20" fill="#151515"/>
<rect x="397.50" y="381.50" width="6.40" height="44.00" fill="#151515"/>
<rect x="397.85" y="425.50" width="5.70" height="44.00" fill="#fff" stroke="#222" stroke-width="0.85"/>
<rect x="397.50" y="469.50" width="6.40" height="44.00" fill="#151515"/>
<rect x="397.85" y="513.50" width="5.70" height="44.00" fill="#fff" stroke="#222" stroke-width="0.85"/>
<rect x="397.50" y="557.50" width="6.40" height="44.00" fill="#151515"/>
<rect x="397.85" y="601.50" width="5.70" height="44.00" fill="#fff" stroke="#222" stroke-width="0.85"/>
<rect x="537.40" y="381.70" width="6.50" height="44.00" fill="#151515"/>
<rect x="537.75" y="425.70" width="5.80" height="44.00" fill="#fff" stroke="#222" stroke-width="0.85"/>
<rect x="537.40" y="469.70" width="6.50" height="44.00" fill="#151515"/>
<rect x="537.75" y="513.70" width="5.80" height="44.00" fill="#fff" stroke="#222" stroke-width="0.85"/>
<rect x="537.40" y="557.70" width="6.50" height="44.00" fill="#151515"/>
<rect x="537.75" y="601.70" width="5.80" height="44.00" fill="#fff" stroke="#222" stroke-width="0.85"/>
<rect x="543.70" y="645.85" width="43.00" height="5.15" fill="#fff" stroke="#222" stroke-width="0.85"/>
<rect x="586.70" y="645.50" width="43.80" height="5.80" fill="#151515"/>
<rect x="630.50" y="645.85" width="37.30" height="5.15" fill="#fff" stroke="#222" stroke-width="0.85"/>
<text x="375.00" y="367.40" font-size="41.30" font-weight="bold" text-anchor="start" fill="#111" >d</text>
<text x="377.00" y="400.20" font-size="18.20" font-weight="bold" text-anchor="start" fill="#1a1a1a" >S</text>
<text x="389.90" y="404.30" font-size="9.38" font-weight="bold" text-anchor="start" fill="#1a1a1a" textLength="5.07" lengthAdjust="spacingAndGlyphs" >d</text>
<text x="415.90" y="425.40" font-size="25.20" font-weight="normal" text-anchor="start" fill="#1a1a1a" textLength="106.65" lengthAdjust="spacingAndGlyphs" >1984-2022</text>
<text x="365.40" y="474.90" font-size="15.81" font-weight="normal" text-anchor="start" fill="#1a1a1a" textLength="8.45" lengthAdjust="spacingAndGlyphs" >4</text>
<text x="373.70" y="474.90" font-size="15.40" font-weight="normal" text-anchor="start" fill="#1a1a1a" textLength="10.20" lengthAdjust="spacingAndGlyphs" >σ</text>
<text x="383.60" y="477.70" font-size="8.30" font-weight="normal" text-anchor="start" fill="#2a2a2a" textLength="7.60" lengthAdjust="spacingAndGlyphs" stroke="#2a2a2a" stroke-width="0.2">T1</text>
<text x="402.90" y="368.50" font-size="15.82" font-weight="normal" text-anchor="middle" fill="#1a1a1a" textLength="7.79" lengthAdjust="spacingAndGlyphs" >0</text>
<text x="490.80" y="368.50" font-size="15.82" font-weight="normal" text-anchor="middle" fill="#1a1a1a" textLength="23.36" lengthAdjust="spacingAndGlyphs" >200</text>
<text x="578.90" y="368.50" font-size="15.82" font-weight="normal" text-anchor="middle" fill="#1a1a1a" textLength="23.36" lengthAdjust="spacingAndGlyphs" >400</text>
<text x="607.00" y="369.20" font-size="19.77" font-weight="bold" text-anchor="start" fill="#1a1a1a" textLength="10.69" lengthAdjust="spacingAndGlyphs" >h</text>
<text x="616.60" y="373.30" font-size="10.40" font-weight="bold" text-anchor="start" fill="#1a1a1a" textLength="14.32" lengthAdjust="spacingAndGlyphs" >cor</text>
<text x="637.00" y="369.20" font-size="19.77" font-weight="bold" text-anchor="start" fill="#1a1a1a" textLength="36.95" lengthAdjust="spacingAndGlyphs" >(cm)</text>
<text x="343.80" y="584.50" font-size="16.60" font-weight="normal" text-anchor="start" fill="#1a1a1a" textLength="28.30" lengthAdjust="spacingAndGlyphs" >1.50</text>
<text x="372.00" y="584.50" font-size="15.60" font-weight="normal" text-anchor="start" fill="#1a1a1a" textLength="10.00" lengthAdjust="spacingAndGlyphs" >σ</text>
<text x="381.80" y="586.80" font-size="8.30" font-weight="normal" text-anchor="start" fill="#2a2a2a" textLength="7.20" lengthAdjust="spacingAndGlyphs" stroke="#2a2a2a" stroke-width="0.2">T1</text>
<line x1="405.30" y1="579.50" x2="408.00" y2="579.50" stroke="#626266" stroke-width="1.9" />
<line x1="470.30" y1="579.50" x2="474.35" y2="579.50" stroke="#626266" stroke-width="1.9" />
<line x1="476.60" y1="579.50" x2="485.30" y2="579.50" stroke="#626266" stroke-width="1.9" />
<line x1="487.55" y1="579.50" x2="496.25" y2="579.50" stroke="#626266" stroke-width="1.9" />
<line x1="498.50" y1="579.50" x2="507.20" y2="579.50" stroke="#626266" stroke-width="1.9" />
<line x1="509.45" y1="579.50" x2="518.15" y2="579.50" stroke="#626266" stroke-width="1.9" />
<line x1="520.40" y1="579.50" x2="529.10" y2="579.50" stroke="#626266" stroke-width="1.9" />
<line x1="531.35" y1="579.50" x2="540.05" y2="579.50" stroke="#626266" stroke-width="1.9" />
<line x1="542.30" y1="579.50" x2="551.00" y2="579.50" stroke="#626266" stroke-width="1.9" />
<line x1="553.25" y1="579.50" x2="561.95" y2="579.50" stroke="#626266" stroke-width="1.9" />
<line x1="564.20" y1="579.50" x2="572.90" y2="579.50" stroke="#626266" stroke-width="1.9" />
<line x1="575.15" y1="579.50" x2="583.85" y2="579.50" stroke="#626266" stroke-width="1.9" />
<line x1="586.10" y1="579.50" x2="594.80" y2="579.50" stroke="#626266" stroke-width="1.9" />
<line x1="597.05" y1="579.50" x2="605.75" y2="579.50" stroke="#626266" stroke-width="1.9" />
<line x1="608.00" y1="579.50" x2="614.30" y2="579.50" stroke="#626266" stroke-width="1.9" />
<text x="411.00" y="584.50" font-size="16.84" font-weight="normal" text-anchor="start" fill="#1a1a1a" textLength="33.96" lengthAdjust="spacingAndGlyphs" >(4.00</text>
<text x="445.30" y="584.50" font-size="15.60" font-weight="normal" text-anchor="start" fill="#1a1a1a" textLength="9.80" lengthAdjust="spacingAndGlyphs" >σ</text>
<text x="454.70" y="587.00" font-size="8.30" font-weight="normal" text-anchor="start" fill="#2a2a2a" textLength="8.60" lengthAdjust="spacingAndGlyphs" stroke="#2a2a2a" stroke-width="0.2">T2</text>
<text x="464.00" y="584.50" font-size="16.84" font-weight="normal" text-anchor="start" fill="#1a1a1a" textLength="4.96" lengthAdjust="spacingAndGlyphs" >)</text>
<text x="343.80" y="605.80" font-size="16.60" font-weight="normal" text-anchor="start" fill="#1a1a1a" textLength="28.30" lengthAdjust="spacingAndGlyphs" >1.00</text>
<text x="372.00" y="605.80" font-size="15.60" font-weight="normal" text-anchor="start" fill="#1a1a1a" textLength="10.00" lengthAdjust="spacingAndGlyphs" >σ</text>
<text x="381.80" y="608.10" font-size="8.30" font-weight="normal" text-anchor="start" fill="#2a2a2a" textLength="7.20" lengthAdjust="spacingAndGlyphs" stroke="#2a2a2a" stroke-width="0.2">T1</text>
<line x1="403.90" y1="601.30" x2="409.60" y2="601.30" stroke="#626266" stroke-width="1.9" />
<line x1="467.80" y1="601.30" x2="475.35" y2="601.30" stroke="#626266" stroke-width="1.9" />
<line x1="477.60" y1="601.30" x2="486.30" y2="601.30" stroke="#626266" stroke-width="1.9" />
<line x1="488.55" y1="601.30" x2="497.25" y2="601.30" stroke="#626266" stroke-width="1.9" />
<line x1="499.50" y1="601.30" x2="508.20" y2="601.30" stroke="#626266" stroke-width="1.9" />
<line x1="510.45" y1="601.30" x2="519.15" y2="601.30" stroke="#626266" stroke-width="1.9" />
<line x1="521.40" y1="601.30" x2="530.10" y2="601.30" stroke="#626266" stroke-width="1.9" />
<line x1="532.35" y1="601.30" x2="541.05" y2="601.30" stroke="#626266" stroke-width="1.9" />
<line x1="543.30" y1="601.30" x2="552.00" y2="601.30" stroke="#626266" stroke-width="1.9" />
<line x1="554.25" y1="601.30" x2="562.95" y2="601.30" stroke="#626266" stroke-width="1.9" />
<line x1="565.20" y1="601.30" x2="573.90" y2="601.30" stroke="#626266" stroke-width="1.9" />
<line x1="576.15" y1="601.30" x2="584.85" y2="601.30" stroke="#626266" stroke-width="1.9" />
<text x="409.30" y="605.80" font-size="16.84" font-weight="normal" text-anchor="start" fill="#1a1a1a" textLength="33.96" lengthAdjust="spacingAndGlyphs" >(2.67</text>
<text x="443.60" y="605.80" font-size="15.60" font-weight="normal" text-anchor="start" fill="#1a1a1a" textLength="9.80" lengthAdjust="spacingAndGlyphs" >σ</text>
<text x="453.00" y="608.30" font-size="8.30" font-weight="normal" text-anchor="start" fill="#2a2a2a" textLength="8.60" lengthAdjust="spacingAndGlyphs" stroke="#2a2a2a" stroke-width="0.2">T2</text>
<text x="462.30" y="605.80" font-size="16.84" font-weight="normal" text-anchor="start" fill="#1a1a1a" textLength="4.96" lengthAdjust="spacingAndGlyphs" >)</text>
<text x="342.90" y="635.70" font-size="16.60" font-weight="normal" text-anchor="start" fill="#1a1a1a" textLength="28.90" lengthAdjust="spacingAndGlyphs" >0.36</text>
<text x="372.00" y="635.70" font-size="15.60" font-weight="normal" text-anchor="start" fill="#1a1a1a" textLength="10.00" lengthAdjust="spacingAndGlyphs" >σ</text>
<text x="381.80" y="638.00" font-size="8.30" font-weight="normal" text-anchor="start" fill="#2a2a2a" textLength="7.20" lengthAdjust="spacingAndGlyphs" stroke="#2a2a2a" stroke-width="0.2">T1</text>
<line x1="404.30" y1="631.10" x2="405.40" y2="631.10" stroke="#626266" stroke-width="1.9" />
<line x1="406.90" y1="631.10" x2="408.10" y2="631.10" stroke="#626266" stroke-width="1.9" />
<line x1="467.80" y1="631.10" x2="470.25" y2="631.10" stroke="#626266" stroke-width="1.9" />
<line x1="472.50" y1="631.10" x2="481.20" y2="631.10" stroke="#626266" stroke-width="1.9" />
<line x1="483.45" y1="631.10" x2="492.15" y2="631.10" stroke="#626266" stroke-width="1.9" />
<line x1="494.40" y1="631.10" x2="503.10" y2="631.10" stroke="#626266" stroke-width="1.9" />
<line x1="505.35" y1="631.10" x2="514.05" y2="631.10" stroke="#626266" stroke-width="1.9" />
<line x1="516.30" y1="631.10" x2="525.00" y2="631.10" stroke="#626266" stroke-width="1.9" />
<line x1="527.25" y1="631.10" x2="535.95" y2="631.10" stroke="#626266" stroke-width="1.9" />
<line x1="538.20" y1="631.10" x2="546.90" y2="631.10" stroke="#626266" stroke-width="1.9" />
<line x1="549.15" y1="631.10" x2="557.85" y2="631.10" stroke="#626266" stroke-width="1.9" />
<text x="409.30" y="635.70" font-size="16.84" font-weight="normal" text-anchor="start" fill="#1a1a1a" textLength="33.96" lengthAdjust="spacingAndGlyphs" >(1.67</text>
<text x="443.60" y="635.70" font-size="15.60" font-weight="normal" text-anchor="start" fill="#1a1a1a" textLength="9.80" lengthAdjust="spacingAndGlyphs" >σ</text>
<text x="453.00" y="638.20" font-size="8.30" font-weight="normal" text-anchor="start" fill="#2a2a2a" textLength="8.60" lengthAdjust="spacingAndGlyphs" stroke="#2a2a2a" stroke-width="0.2">T2</text>
<text x="462.30" y="635.70" font-size="16.84" font-weight="normal" text-anchor="start" fill="#1a1a1a" textLength="4.96" lengthAdjust="spacingAndGlyphs" >)</text>
<line x1="543.30" y1="645.40" x2="559.70" y2="631.10" stroke="#151515" stroke-width="1.5" />
<line x1="621.20" y1="567.30" x2="631.70" y2="557.40" stroke="#151515" stroke-width="1.6" />
<line x1="559.70" y1="631.10" x2="586.20" y2="602.00" stroke="#151515" stroke-width="4.8" />
<line x1="586.20" y1="602.00" x2="614.30" y2="579.20" stroke="#151515" stroke-width="4.0" />
<polygon points="562.00,628.60 565.10,616.28 568.33,621.65 573.98,624.36" fill="#151515"/>
<polygon points="583.90,604.50 580.80,616.82 577.57,611.45 571.92,608.74" fill="#151515"/>
<polygon points="602.80,588.50 597.21,599.86 595.58,594.36 590.53,591.63" fill="#151515"/>
<line x1="614.30" y1="579.20" x2="629.20" y2="579.20" stroke="#151515" stroke-width="3.4" />
<rect x="638.40" y="577.40" width="3.4" height="3.4" fill="#151515" transform="rotate(0 640.1 579.1)"/>
<rect x="645.60" y="579.10" width="3.4" height="3.4" fill="#151515" transform="rotate(22 647.3 580.8)"/>
<rect x="650.40" y="584.40" width="3.4" height="3.4" fill="#151515" transform="rotate(62 652.1 586.1)"/>
<rect x="650.60" y="592.10" width="3.4" height="3.4" fill="#151515" transform="rotate(0 652.3 593.8)"/>
<rect x="650.60" y="599.30" width="3.4" height="3.4" fill="#151515" transform="rotate(0 652.3 601.0)"/>
<rect x="650.60" y="606.40" width="3.4" height="3.4" fill="#151515" transform="rotate(0 652.3 608.1)"/>
<rect x="650.60" y="613.60" width="3.4" height="3.4" fill="#151515" transform="rotate(0 652.3 615.3)"/>
<rect x="650.60" y="621.10" width="3.4" height="3.4" fill="#151515" transform="rotate(0 652.3 622.8)"/>
<rect x="650.60" y="628.70" width="3.4" height="3.4" fill="#151515" transform="rotate(0 652.3 630.4)"/>
<rect x="650.60" y="635.90" width="3.4" height="3.4" fill="#151515" transform="rotate(0 652.3 637.6)"/>
<rect x="650.60" y="642.30" width="3.4" height="3.4" fill="#151515" transform="rotate(0 652.3 644.0)"/>
<circle cx="404.30" cy="644.70" r="4.3" fill="#d2d4d4" stroke="#2a2a2a" stroke-width="0.85"/>
<circle cx="586.10" cy="470.40" r="4.3" fill="#d2d4d4" stroke="#2a2a2a" stroke-width="0.85"/>
<circle cx="586.20" cy="602.00" r="4.3" fill="#d2d4d4" stroke="#2a2a2a" stroke-width="0.85"/>
<circle cx="559.70" cy="631.10" r="4.3" fill="#d2d4d4" stroke="#2a2a2a" stroke-width="0.85"/>
<circle cx="614.30" cy="579.20" r="4.3" fill="#d2d4d4" stroke="#2a2a2a" stroke-width="0.85"/>
<circle cx="629.20" cy="579.20" r="4.3" fill="#d2d4d4" stroke="#2a2a2a" stroke-width="0.85"/>
<text x="593.60" y="468.30" font-size="16.38" font-weight="normal" text-anchor="start" fill="#1a1a1a" textLength="9.67" lengthAdjust="spacingAndGlyphs" >B</text>
<text x="599.00" y="574.80" font-size="16.38" font-weight="normal" text-anchor="start" fill="#1a1a1a" textLength="9.67" lengthAdjust="spacingAndGlyphs" >E</text>
<text x="634.40" y="574.80" font-size="16.38" font-weight="normal" text-anchor="start" fill="#1a1a1a" textLength="8.86" lengthAdjust="spacingAndGlyphs" >F</text>
<text x="573.10" y="597.70" font-size="16.38" font-weight="normal" text-anchor="start" fill="#1a1a1a" textLength="10.47" lengthAdjust="spacingAndGlyphs" >C</text>
<text x="565.40" y="643.10" font-size="16.38" font-weight="normal" text-anchor="start" fill="#1a1a1a" textLength="10.47" lengthAdjust="spacingAndGlyphs" >D</text>
<text x="407.90" y="660.00" font-size="16.95" font-weight="normal" text-anchor="start" fill="#1a1a1a" textLength="10.01" lengthAdjust="spacingAndGlyphs" >A</text>
<text x="634.60" y="623.20" font-size="25.76" font-weight="bold" text-anchor="start" fill="#1a1a1a" textLength="13.93" lengthAdjust="spacingAndGlyphs" >?</text>
<text x="542.80" y="673.10" font-size="15.82" font-weight="normal" text-anchor="middle" fill="#1a1a1a" textLength="7.79" lengthAdjust="spacingAndGlyphs" >0</text>
<text x="587.60" y="673.10" font-size="15.82" font-weight="normal" text-anchor="middle" fill="#1a1a1a" textLength="23.36" lengthAdjust="spacingAndGlyphs" >100</text>
<text x="630.10" y="673.10" font-size="15.82" font-weight="normal" text-anchor="middle" fill="#1a1a1a" textLength="23.36" lengthAdjust="spacingAndGlyphs" >200</text>
<text x="546.80" y="691.40" font-size="19.77" font-weight="bold" text-anchor="start" fill="#1a1a1a" textLength="10.69" lengthAdjust="spacingAndGlyphs" >h</text>
<text x="558.00" y="695.50" font-size="10.40" font-weight="bold" text-anchor="start" fill="#1a1a1a" textLength="14.32" lengthAdjust="spacingAndGlyphs" >cor</text>
<text x="577.20" y="691.40" font-size="19.77" font-weight="bold" text-anchor="start" fill="#1a1a1a" textLength="5.83" lengthAdjust="spacingAndGlyphs" >-</text>
<text x="593.20" y="691.40" font-size="19.77" font-weight="bold" text-anchor="start" fill="#1a1a1a" textLength="10.69" lengthAdjust="spacingAndGlyphs" >h</text>
<text x="604.40" y="695.50" font-size="10.40" font-weight="bold" text-anchor="start" fill="#1a1a1a" textLength="24.55" lengthAdjust="spacingAndGlyphs" >cor84</text>
<text x="633.40" y="691.40" font-size="19.77" font-weight="bold" text-anchor="start" fill="#1a1a1a" textLength="36.95" lengthAdjust="spacingAndGlyphs" >(cm)</text>
</svg>
</body></html>
